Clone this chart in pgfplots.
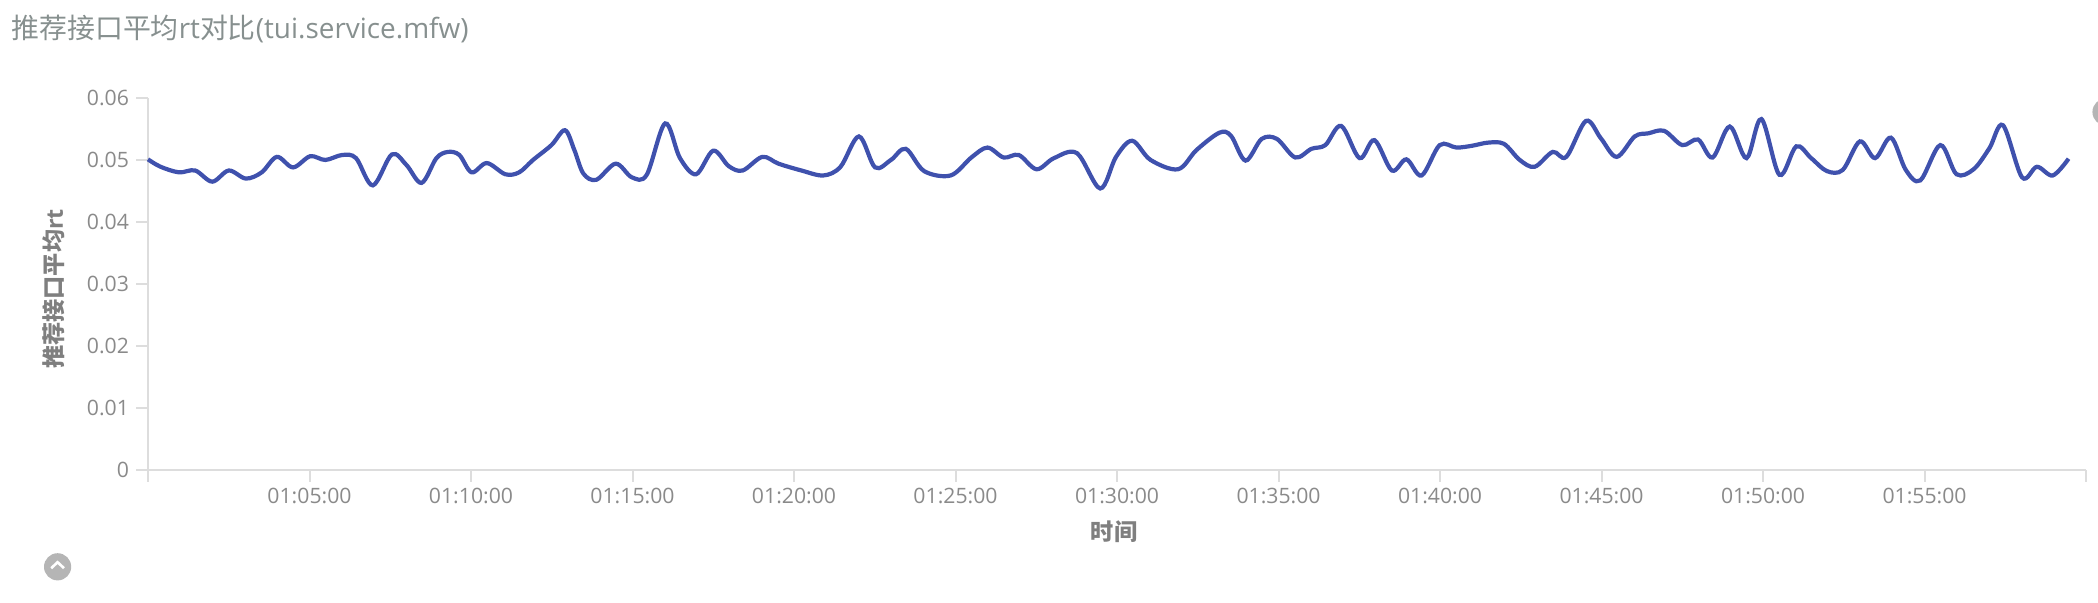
\documentclass[border=0pt]{standalone}
\usepackage{pgfplots}
\pgfplotsset{compat=1.18}
\usepackage{pgfplotstable}
\usepackage{fontspec}
\setmainfont{Open Sans}
\newfontfamily\cjk{Noto Sans CJK SC}
\definecolor{axisline}{HTML}{DDDDDD}
\definecolor{ticktext}{HTML}{8A8A8A}
\definecolor{titletext}{HTML}{87908F}
\definecolor{labeltext}{HTML}{7F7F7F}
\definecolor{rtline}{HTML}{3F51AD}
\definecolor{icon}{HTML}{B5B5B5}

% minutes after 01:00:00, average rt
\pgfplotstableread{
t v
0.00 .0501
0.39 .0489
0.96 .0480
1.46 .0483
1.99 .0465
2.50 .0483
3.03 .0470
3.52 .0480
3.99 .0505
4.49 .0488
5.02 .0506
5.49 .0500
6.01 .0508
6.44 .0503
6.96 .0459
7.55 .0509
8.00 .0492
8.47 .0463
8.93 .0503
9.29 .0513
9.64 .0508
10.02 .0480
10.49 .0495
11.06 .0477
11.49 .0480
11.92 .0500
12.49 .0524
12.91 .0548
13.20 .0516
13.48 .0478
13.88 .0468
14.48 .0494
14.98 .0472
15.44 .0476
16.01 .0559
16.47 .0503
16.97 .0477
17.50 .0515
17.98 .0490
18.41 .0483
19.02 .0505
19.52 .0494
20.23 .0483
20.91 .0475
21.44 .0489
22.01 .0538
22.51 .0488
23.00 .0500
23.46 .0518
24.03 .0482
24.85 .0475
25.49 .0504
25.99 .0520
26.49 .0504
26.96 .0508
27.51 .0485
28.05 .0503
28.76 .0511
29.48 .0454
29.97 .0505
30.47 .0531
31.04 .0500
31.89 .0485
32.46 .0516
33.17 .0544
33.53 .0539
33.98 .0499
34.48 .0534
34.95 .0534
35.52 .0504
36.02 .0518
36.45 .0524
36.94 .0555
37.51 .0503
37.97 .0532
38.51 .0483
38.96 .0501
39.43 .0475
39.99 .0524
40.51 .0520
41.00 .0523
41.49 .0528
41.98 .0526
42.47 .0500
42.93 .0489
43.49 .0513
43.91 .0505
44.52 .0563
44.98 .0535
45.47 .0505
46.03 .0538
46.45 .0543
46.94 .0547
47.50 .0524
47.99 .0533
48.44 .0504
48.97 .0554
49.49 .0503
49.95 .0566
50.51 .0476
51.03 .0522
51.49 .0503
51.98 .0482
52.47 .0484
53.00 .0530
53.47 .0503
53.96 .0536
54.42 .0484
54.87 .0467
55.49 .0524
55.99 .0477
56.52 .0485
57.01 .0519
57.43 .0556
58.02 .0472
58.48 .0489
58.97 .0475
59.46 .0502
}\rtdata

\begin{document}
\begin{tikzpicture}
\path[use as bounding box] (0,0) rectangle (1049pt,301pt);
\begin{axis}[
    at={(74pt,66.15pt)},
    anchor=south west,
    scale only axis,
    width=969pt,
    height=185.85pt,
    xmin=0, xmax=60,
    ymin=0, ymax=0.06,
    axis x line*=bottom,
    axis y line*=left,
    axis line style={axisline, line width=1pt, -},
    tick style={axisline, line width=1pt},
    major tick length=6pt,
    tick align=outside,
    scaled y ticks=false,
    xtick={0,5,10,15,20,25,30,35,40,45,50,55,60},
    xticklabels={,01:05:00,01:10:00,01:15:00,01:20:00,01:25:00,01:30:00,01:35:00,01:40:00,01:45:00,01:50:00,01:55:00,},
    ytick={0,0.01,0.02,0.03,0.04,0.05,0.06},
    yticklabels={0,0.01,0.02,0.03,0.04,0.05,0.06},
    ticklabel style={font=\fontsize{10.6}{12}\selectfont, text=ticktext},
    x tick label style={yshift=0.5pt},
    clip=false,
]
\addplot[rtline, line width=2.1pt, smooth, tension=0.55, no marks] table[x=t, y=v] {\rtdata};
\end{axis}
\node[anchor=base west, text=titletext, inner sep=0pt, font=\fontsize{13.95}{16}\selectfont] at (5.5pt,282pt) {{\cjk 推荐接口平均}rt{\cjk 对比}(tui.service.mfw)};
\node[anchor=center, rotate=90, text=labeltext, inner sep=0pt, font=\fontsize{11.6}{13}\selectfont\bfseries] at (27pt,156.5pt) {{\cjk\bfseries 推荐接口平均}rt};
\node[anchor=center, text=labeltext, inner sep=0pt, font=\fontsize{11.6}{13}\selectfont\bfseries] at (557pt,35pt) {\cjk\bfseries 时间};
\fill[icon] (28.8pt,17.6pt) circle (6.8pt);
\draw[white, line width=1.3pt] (25.6pt,16.9pt) -- (28.8pt,19.9pt) -- (32pt,16.9pt);
\fill[icon] (1053pt,245pt) circle (6.8pt);
\end{tikzpicture}
\end{document}
